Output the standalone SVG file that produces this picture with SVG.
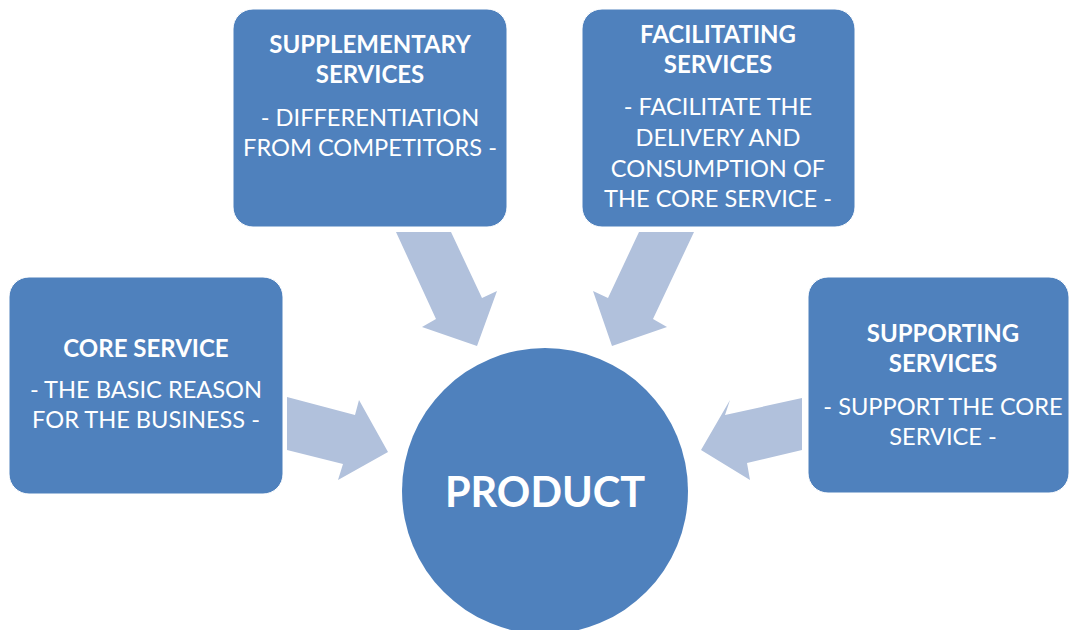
<svg xmlns="http://www.w3.org/2000/svg" width="1071" height="630" viewBox="0 0 1071 630">
<style>
.box{fill:#4F81BD;stroke:#ffffff;stroke-width:1}
.arr{fill:#B1C1DC}
text{font-family:Lato,"Open Sans","Liberation Sans",sans-serif;fill:#ffffff;text-anchor:middle;font-size:23.6px}
.t{font-weight:bold;font-size:24px}
.big{font-weight:bold;font-size:41.5px}
</style>
<rect width="1071" height="630" fill="#ffffff"/>
<g id="connectors">
<polygon class="arr" points="287,397 355,415 359,400 388,452 338,480 343,464 287,450"/>
<polygon class="arr" points="802,398 725,415 730,400 701,450 750,480 747,463 802,450"/>
<polygon class="arr" points="396,232 451,232 482,298 497,291 477,346 422,327 436,319"/>
<polygon class="arr" points="694,232 639,232 608,298 593,291 612,346 667,327 653,319"/>
</g>
<g id="product">
<circle cx="545" cy="491" r="143" fill="#4F81BD"/>
<text class="big" x="545" y="507">PRODUCT</text>
</g>
<g id="core">
<rect class="box" x="9" y="277" width="274" height="217" rx="20"/>
<text class="t" x="146" y="357">CORE SERVICE</text>
<text x="146" y="398">- THE BASIC REASON</text>
<text x="146" y="428">FOR THE BUSINESS -</text>
</g>
<g id="supplementary">
<rect class="box" x="233" y="9" width="274" height="218" rx="20"/>
<text class="t" x="370" y="53">SUPPLEMENTARY</text>
<text class="t" x="370" y="83">SERVICES</text>
<text x="370" y="126">- DIFFERENTIATION</text>
<text x="370" y="156">FROM COMPETITORS -</text>
</g>
<g id="facilitating">
<rect class="box" x="582" y="9" width="273" height="218" rx="20"/>
<text class="t" x="718" y="43">FACILITATING</text>
<text class="t" x="718" y="73">SERVICES</text>
<text x="718" y="115">- FACILITATE THE</text>
<text x="718" y="146">DELIVERY AND</text>
<text x="718" y="177">CONSUMPTION OF</text>
<text x="718" y="207">THE CORE SERVICE -</text>
</g>
<g id="supporting">
<rect class="box" x="808" y="277" width="261" height="216" rx="20"/>
<text class="t" x="943" y="342">SUPPORTING</text>
<text class="t" x="943" y="372">SERVICES</text>
<text x="943" y="415">- SUPPORT THE CORE</text>
<text x="943" y="445">SERVICE -</text>
</g>
</svg>
